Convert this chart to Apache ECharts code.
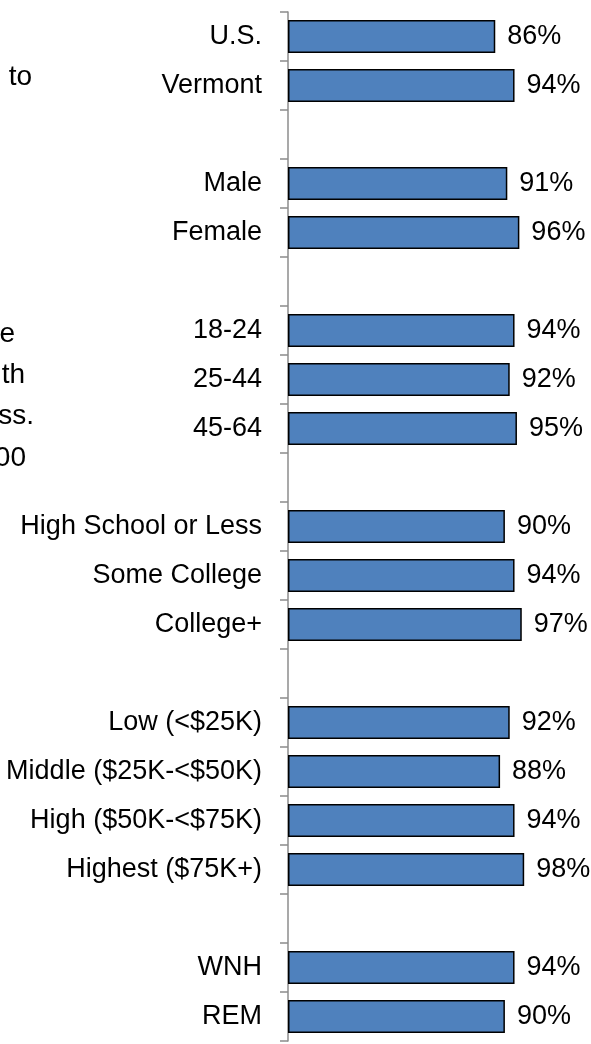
<!DOCTYPE html>
<html>
<head>
<meta charset="utf-8">
<style>
  html, body { margin: 0; padding: 0; background: #fff; }
  #chart { width: 591px; height: 1044px; }
</style>
<script src="https://cdn.jsdelivr.net/npm/echarts@6/dist/echarts.min.js"></script>
</head>
<body>
<div id="chart"></div>
<script>
// groups separated by empty slots, top to bottom
var categories = [
  'U.S.', 'Vermont', '',
  'Male', 'Female', '',
  '18-24', '25-44', '45-64', '',
  'High School or Less', 'Some College', 'College+', '',
  'Low (<$25K)', 'Middle ($25K-<$50K)', 'High ($50K-<$75K)', 'Highest ($75K+)', '',
  'WNH', 'REM'
];
var values = [
  86, 94, null,
  91, 96, null,
  94, 92, 95, null,
  90, 94, 97, null,
  92, 88, 94, 98, null,
  94, 90
];
// cut-off text from the box on the left
var sideText = ['to', 'e', 'th', 'ss.', '00'];

var chart = echarts.init(document.getElementById('chart'));

var sidePos = [[32, 77], [15, 334], [25, 375], [34, 416], [26, 458]];
var graphic = sideText.map(function (t, i) {
  return {
    type: 'text',
    x: sidePos[i][0],
    y: sidePos[i][1],
    style: {
      text: t,
      font: '28px "Liberation Sans", Arial, sans-serif',
      fill: '#000',
      textAlign: 'right',
      textVerticalAlign: 'middle'
    }
  };
});

chart.setOption({
  animation: false,
  graphic: graphic,
  grid: { left: 288, top: 12, width: 241, height: 1029, containLabel: false },
  xAxis: {
    type: 'value',
    min: 0,
    max: 100,
    show: false
  },
  yAxis: {
    type: 'category',
    inverse: true,
    data: categories,
    axisLine: { lineStyle: { color: '#8c8c8c', width: 1.5 } },
    axisTick: { show: true, length: 8, lineStyle: { color: '#8c8c8c', width: 1.5 } },
    axisLabel: {
      margin: 26,
      color: '#000',
      fontSize: 27,
      padding: [4, 0, 0, 0],
      fontFamily: '"Liberation Sans", Arial, sans-serif'
    },
    splitLine: { show: false }
  },
  series: [{
    type: 'bar',
    data: values,
    barCategoryGap: '33%',
    itemStyle: { color: '#4F81BD', borderColor: '#000', borderWidth: 1.5 },
    label: {
      show: true,
      position: 'right',
      distance: 12,
      formatter: '{c}%',
      color: '#000',
      fontSize: 27,
      padding: [4, 0, 0, 0],
      fontFamily: '"Liberation Sans", Arial, sans-serif'
    }
  }]
});
</script>
</body>
</html>
